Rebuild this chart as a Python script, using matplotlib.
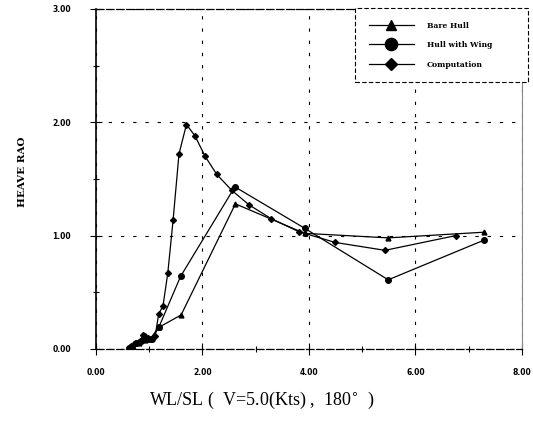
import matplotlib.pyplot as plt
from matplotlib.ticker import MultipleLocator, FormatStrFormatter

# Bare Hull
bare_x = [0.62, 0.70, 0.80, 0.92, 1.02, 1.18, 1.60, 2.62, 3.92, 5.49, 7.29]
bare_y = [0.00, 0.02, 0.05, 0.08, 0.09, 0.19, 0.30, 1.28, 1.02, 0.98, 1.03]

# Hull with Wing
wing_x = [0.62, 0.68, 0.76, 0.85, 0.90, 0.97, 1.05, 1.18, 1.59, 2.61, 3.92, 5.49, 7.29]
wing_y = [0.01, 0.03, 0.05, 0.07, 0.11, 0.09, 0.09, 0.19, 0.64, 1.43, 1.065, 0.61, 0.96]

# Computation
comp_x = [0.64, 0.72, 0.80, 0.89, 0.97, 1.03, 1.11, 1.18, 1.26, 1.35, 1.45, 1.56,
          1.70, 1.86, 2.05, 2.27, 2.55, 2.88, 3.29, 3.81, 4.49, 5.43, 6.76]
comp_y = [0.02, 0.04, 0.06, 0.12, 0.10, 0.085, 0.11, 0.31, 0.38, 0.67, 1.14, 1.72,
          1.98, 1.88, 1.70, 1.54, 1.40, 1.27, 1.15, 1.035, 0.94, 0.87, 1.00]

fig = plt.figure(figsize=(5.33, 4.24), dpi=100)
ax = fig.add_axes([0.180, 0.177, 0.799, 0.802])

ax.plot(bare_x, bare_y, color='black', lw=0.9, marker='^', ms=3.5, label='Bare Hull')
ax.plot(wing_x, wing_y, color='black', lw=0.9, marker='o', ms=4, label='Hull with Wing')
ax.plot(comp_x, comp_y, color='black', lw=0.9, marker='D', ms=3, label='Computation')

ax.set_xlim(0, 8)
ax.set_ylim(0, 3)
ax.xaxis.set_major_locator(MultipleLocator(2))
ax.xaxis.set_minor_locator(MultipleLocator(1))
ax.yaxis.set_major_locator(MultipleLocator(1))
ax.yaxis.set_minor_locator(MultipleLocator(0.5))
ax.xaxis.set_major_formatter(FormatStrFormatter('%.2f'))
ax.yaxis.set_major_formatter(FormatStrFormatter('%.2f'))
ax.tick_params(which='major', direction='inout', length=8, width=0.8, labelsize=5.5)
ax.tick_params(axis='x', which='major', pad=10)
ax.tick_params(axis='y', which='major', pad=14)
ax.tick_params(which='minor', direction='inout', length=4, width=0.8)
for lab in ax.get_xticklabels() + ax.get_yticklabels():
    lab.set_fontweight('bold')

ax.grid(True, which='major', linestyle=(0, (3, 8)), color='black', lw=0.8)

ax.spines['left'].set_linewidth(1.2)
ax.spines['top'].set_linestyle((0, (6, 2)))
ax.spines['bottom'].set_linestyle((0, (6, 2)))
ax.spines['right'].set_color('#888888')
for s in ['top', 'bottom']:
    ax.spines[s].set_linewidth(0.9)

ax.set_ylabel('HEAVE RAO', family='DejaVu Serif', fontweight='bold', fontsize=7.5)
ax.yaxis.set_label_coords(-0.163, 0.52)
ax.set_xlabel('WL/SL (  V=5.0(Kts) ,  180$^{\\circ}$  )', family='Liberation Serif', fontsize=13)
ax.xaxis.set_label_coords(0.39, -0.12)

leg = ax.legend(loc='upper left', bbox_to_anchor=(0.608, 0.5, 0.406, 0.503), mode='expand',
                frameon=True, fancybox=False,
                markerscale=2.2, handlelength=5.9, handletextpad=1.7, borderpad=1.8,
                labelspacing=1.5, borderaxespad=0,
                prop={'family': 'DejaVu Serif', 'weight': 'bold', 'size': 5.5})
leg.get_frame().set_edgecolor('black')
leg.get_frame().set_linestyle((0, (4, 2)))
leg.get_frame().set_linewidth(0.8)
leg.get_frame().set_alpha(1)

plt.savefig('out.png', dpi=100)
